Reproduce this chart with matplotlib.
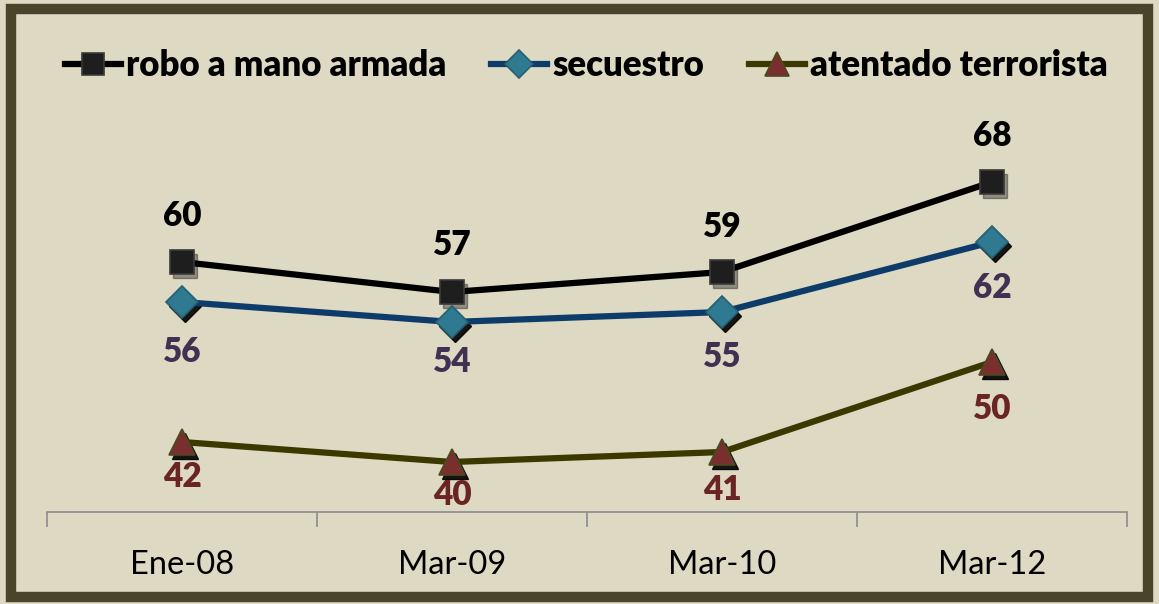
import matplotlib
matplotlib.use("Agg")
import matplotlib.pyplot as plt
import matplotlib.transforms as mtransforms
from matplotlib.patches import Rectangle

plt.rcParams['font.family'] = ['Lato', 'DejaVu Sans']

periodos = ['Ene-08', 'Mar-09', 'Mar-10', 'Mar-12']
robo = [60, 57, 59, 68]
secuestro = [56, 54, 55, 62]
atentado = [42, 40, 41, 50]

# desplazamiento vertical de las etiquetas (en unidades del eje)
desp_robo = [4.6, 4.7, 4.5, 4.6]
desp_sec = [-5.0, -4.0, -4.5, -4.6]
desp_ate = [-3.5, -3.3, -3.8, -4.7]

bg = '#DDD9C3'
fig = plt.figure(figsize=(11.59, 6.04), dpi=100, facecolor=bg)
# marco exterior
fig.patches.append(Rectangle((0.0095, 0.0115), 0.981, 0.974, transform=fig.transFigure,
                             fill=False, edgecolor='#4A442A', linewidth=7.5))

ax = fig.add_axes([47 / 1159, 92 / 604, 1080 / 1159, 400 / 604])
ax.set_facecolor(bg)
x = [0.5, 1.5, 2.5, 3.5]

# sombras de los marcadores
sh = mtransforms.offset_copy(ax.transData, fig=fig, x=3, y=-4, units='dots')
ax.plot(x, robo, ls='none', marker='s', ms=17, color='black', alpha=0.35, transform=sh, zorder=2)
ax.plot(x, secuestro, ls='none', marker='D', ms=16, color='black', alpha=0.9, transform=sh, zorder=2)
ax.plot(x, atentado, ls='none', marker='^', ms=19, color='black', alpha=0.9, transform=sh, zorder=2)

l1, = ax.plot(x, robo, color='black', lw=4.5, marker='s', ms=17, mfc='#1E1E1E',
              mec='#3A3A3A', mew=1.2, zorder=3, label='robo a mano armada')
l2, = ax.plot(x, secuestro, color='#0E3C6A', lw=4.5, marker='D', ms=16, mfc='#2F7A90',
              mec='#255F72', mew=1.2, zorder=3, label='secuestro')
l3, = ax.plot(x, atentado, color='#3B3800', lw=4.5, marker='^', ms=19, mfc='#7A2E2E',
              mec='#4A4A20', mew=1.2, zorder=3, label='atentado terrorista')

for xi, v, d in zip(x, robo, desp_robo):
    ax.text(xi, v + d, str(v), ha='center', va='center', fontsize=24, fontweight='heavy',
            color='black')
for xi, v, d in zip(x, secuestro, desp_sec):
    ax.text(xi, v + d, str(v), ha='center', va='center', fontsize=24, fontweight='heavy',
            color='#3F3151')
for xi, v, d in zip(x, atentado, desp_ate):
    ax.text(xi, v + d, str(v), ha='center', va='center', fontsize=24, fontweight='heavy',
            color='#6B2424')

ax.set_xlim(0, 4)
ax.set_ylim(35, 75)
ax.set_yticks([])
ax.set_xticks([0, 1, 2, 3, 4])
ax.set_xticklabels([])
ax.set_xticks(x, minor=True)
ax.set_xticklabels(periodos, minor=True, fontsize=23.5)
ax.tick_params(axis='x', which='major', length=11, width=1.2, color='#8C8C8C')
ax.tick_params(axis='x', which='minor', length=0, pad=27)
for s in ['top', 'right', 'left']:
    ax.spines[s].set_visible(False)
ax.spines['bottom'].set_color('#8C8C8C')
ax.spines['bottom'].set_linewidth(1.2)

leg = fig.legend(handles=[l1, l2, l3], loc='center', bbox_to_anchor=(0.506, 0.892), ncol=3,
                 frameon=False, handlelength=1.6, handletextpad=0.15, columnspacing=1.3,
                 markerscale=0.9, prop={'weight': 'heavy', 'size': 25})

fig.savefig('out.png', dpi=100, facecolor=bg)
